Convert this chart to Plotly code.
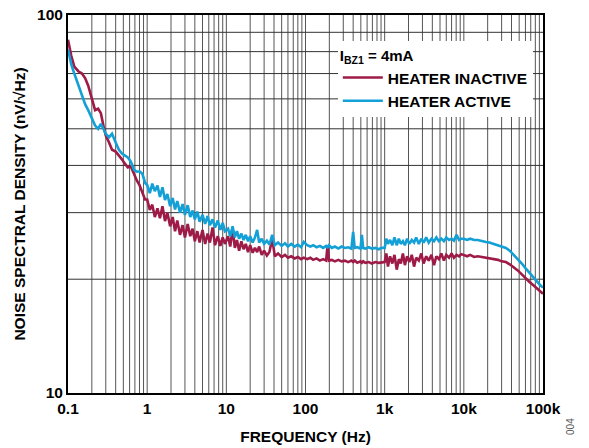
import plotly.graph_objects as go

freq = [0.1, 0.11, 0.12, 0.135, 0.15, 0.165, 0.18, 0.2, 0.22, 0.24, 0.26, 0.28, 0.3, 0.33, 0.36, 0.4, 0.44, 0.48, 0.52, 0.57, 0.62, 0.68, 0.74, 0.8, 0.87, 0.94,
        1.0, 1.08, 1.16, 1.25, 1.35, 1.45, 1.56, 1.68, 1.8, 1.95, 2.1, 2.25, 2.4, 2.6, 2.8, 3.0, 3.25, 3.5, 3.75, 4.0, 4.3, 4.6, 5.0, 5.4, 5.8, 6.2, 6.7, 7.2, 7.8, 8.4, 9.0, 9.6,
        10.5, 11.2, 12, 12.8, 13.6, 14.5, 15.5, 16.5, 17.6, 18.8, 20, 21.5, 23, 24.5, 26, 28, 30, 32.5, 35, 38, 41, 45, 50, 55, 60, 66, 73, 80, 88, 95,
        105, 115, 125, 138, 152, 167, 182, 190, 198, 215, 235, 260, 285, 315, 345, 380, 400, 418, 450, 495, 515, 535, 570, 630, 690, 760, 840, 920,
        1000, 1050, 1100, 1170, 1250, 1330, 1420, 1510, 1600, 1700, 1800, 1920, 2050, 2200, 2350, 2500, 2700, 2900, 3100, 3350, 3600, 3900, 4200, 4500, 4850, 5200, 5600, 6000, 6500, 7000, 7500, 8100, 8700, 9300,
        10000, 11000, 12000, 13500, 15000, 17000, 19000, 21000, 24000, 27000, 30000, 34000, 38000, 43000, 48000, 54000, 60000, 67000, 75000, 84000, 92000, 100000]

heater_inactive = [86, 78, 73, 71, 70, 68, 65, 60, 56, 56.5, 55, 51, 48, 46, 44, 43.5, 42.5, 41.5, 40.5, 39.5, 39.8, 38, 36.5, 35.5, 34, 32.5,
                   32.5, 30.5, 31.5, 29.2, 30.8, 29.0, 31.2, 28.5, 30.0, 27.6, 29.2, 26.8, 28.6, 26.2, 27.8, 25.8, 28.0, 26.0, 27.2, 25.2, 26.8, 25.0, 27.0, 24.8, 26.4, 25.0, 27.4, 24.6, 26.0, 24.5, 25.8, 24.8,
                   26.0, 24.4, 27.2, 24.2, 25.4, 23.8, 25.2, 24.0, 24.8, 23.6, 24.6, 23.5, 24.2, 23.6, 24.4, 23.2, 23.8, 23.1, 23.6, 25.6, 23.0, 23.4, 22.9, 23.2, 22.8, 23.0, 22.7, 22.9, 22.6, 22.8,
                   22.6, 22.8, 22.5, 22.7, 22.4, 22.6, 22.4, 24.6, 22.4, 22.5, 22.3, 22.5, 22.3, 22.4, 22.2, 22.4, 22.2, 22.4, 22.1, 22.3, 22.1, 22.3, 22.1, 22.2, 22.0, 22.2, 22.1, 22.2,
                   22.2, 23.4, 21.6, 23.0, 22.0, 23.2, 21.2, 22.6, 22.0, 23.4, 21.8, 23.0, 22.2, 23.2, 21.6, 22.8, 22.4, 23.4, 22.0, 23.0, 22.4, 23.2, 21.8, 23.0, 22.6, 23.4, 22.4, 23.2, 22.8, 23.4, 22.8, 23.2, 23.0, 23.3,
                   23.2, 23.0, 23.2, 22.9, 23.0, 22.9, 22.8, 22.8, 22.6, 22.5, 22.3, 22.2, 21.9, 21.5, 21.1, 20.6, 20.1, 19.7, 19.3, 18.9, 18.6, 18.3]

heater_active = [81, 74, 70, 65, 61, 58, 56, 53, 51, 50, 51.5, 50, 48.5, 47.5, 48.5, 46, 44, 43, 42.5, 42, 41, 39, 38.5, 38.6, 38, 36,
                 35.5, 33.8, 35.8, 34.2, 35.4, 33.0, 35.0, 32.4, 33.6, 31.2, 32.8, 30.6, 32.2, 30.0, 31.6, 29.6, 31.4, 29.2, 30.4, 28.8, 30.2, 28.4, 29.6, 28.0, 29.4, 27.8, 28.8, 27.4, 28.6, 27.0, 28.2, 26.8,
                 27.2, 26.0, 27.6, 25.8, 26.8, 25.6, 26.4, 25.4, 26.2, 25.2, 26.0, 25.0, 25.8, 27.0, 25.0, 25.6, 24.8, 25.3, 24.7, 26.2, 24.6, 25.0, 24.5, 24.9, 24.4, 24.8, 24.4, 24.7, 24.3, 25.1,
                 24.6, 24.4, 24.6, 24.3, 24.5, 24.2, 24.5, 24.3, 24.6, 24.2, 24.4, 24.1, 24.4, 24.2, 24.3, 24.1, 26.7, 24.2, 24.3, 24.1, 26.2, 24.2, 24.1, 24.3, 24.1, 24.2, 24.0, 24.2,
                 24.2, 25.6, 24.8, 25.4, 24.6, 25.8, 24.6, 25.6, 24.8, 25.2, 24.6, 25.6, 24.8, 25.4, 25.0, 25.8, 24.8, 25.6, 25.0, 25.8, 25.0, 25.6, 25.2, 25.8, 25.2, 25.6, 25.2, 25.8, 25.4, 25.6, 25.3, 26.2, 25.4, 25.6,
                 25.6, 25.4, 25.6, 25.4, 25.4, 25.3, 25.1, 25.0, 24.8, 24.6, 24.4, 24.2, 23.8, 23.2, 22.6, 22.0, 21.4, 20.8, 20.2, 19.7, 19.3, 19.0]

x_tick_vals = [0.1, 1, 10, 100, 1000, 10000, 100000]
x_tick_text = ["0.1", "1", "10", "100", "1k", "10k", "100k"]
y_tick_vals = [10, 100]
y_tick_text = ["10", "100"]

FONT = "Liberation Sans, Arial, sans-serif"

# grid values (1..9 per decade)
x_grid = [m * 10 ** e for e in range(-1, 5) for m in range(1, 10)] + [100000]
y_grid = [m * 10 for m in range(1, 11)]

fig = go.Figure()
fig.add_trace(go.Scatter(x=freq, y=heater_inactive, mode="lines", name="HEATER INACTIVE",
                         line=dict(color="#9E1B47", width=2.6)))
fig.add_trace(go.Scatter(x=freq, y=heater_active, mode="lines", name="HEATER ACTIVE",
                         line=dict(color="#12A0D7", width=2.6)))

fig.update_layout(
    width=589, height=448,
    margin=dict(l=68, r=46, t=15, b=55, autoexpand=False),
    paper_bgcolor="white", plot_bgcolor="white",
    font=dict(family=FONT, size=15, color="black"),
    showlegend=True,
    legend=dict(
        x=0.568, y=0.93, xanchor="left", yanchor="top",
        bgcolor="white", borderwidth=0,
        title=dict(text="I<sub>BZ1</sub> = 4mA", font=dict(family=FONT, size=15, weight="bold")),
        font=dict(family=FONT, size=15.5, weight="bold"),
        tracegroupgap=0, itemwidth=40,
    ),
    xaxis=dict(
        type="log", range=[-1, 5], automargin=False,
        tickvals=x_tick_vals, ticktext=x_tick_text,
        tickfont=dict(family=FONT, size=15.5, weight="bold"),
        showgrid=False, zeroline=False, ticks="",
        showline=True, linecolor="black", linewidth=2, mirror=True,
        title=dict(text="FREQUENCY (Hz)", font=dict(family=FONT, size=15.5, weight="bold"), standoff=16),
    ),
    yaxis=dict(
        type="log", range=[1, 2], automargin=False,
        tickvals=y_tick_vals, ticktext=y_tick_text,
        tickfont=dict(family=FONT, size=15.5, weight="bold"),
        showgrid=False, zeroline=False, ticks="",
        showline=True, linecolor="black", linewidth=2, mirror=True,
        title=dict(text="NOISE SPECTRAL DENSITY (nV/√Hz)", font=dict(family=FONT, size=15.5, weight="bold"), standoff=8),
    ),
)

# grid lines drawn as layout shapes below the traces, positioned in data coordinates
for xv in x_grid[1:-1]:
    fig.add_shape(type="line", xref="x", yref="paper", x0=xv, x1=xv, y0=0, y1=1,
                  line=dict(color="#555555", width=1), layer="below")
for yv in y_grid[1:-1]:
    fig.add_shape(type="line", xref="paper", yref="y", x0=0, x1=1, y0=yv, y1=yv,
                  line=dict(color="#333333", width=1), layer="below")

fig.add_annotation(text="004", xref="paper", yref="paper", x=1.074, y=-0.116,
                   showarrow=False, textangle=-90, font=dict(family=FONT, size=10, color="#555555"))

fig.write_html("out.html", config={"displayModeBar": False},
               post_script="document.body.style.margin='0';document.body.style.padding='0';")
